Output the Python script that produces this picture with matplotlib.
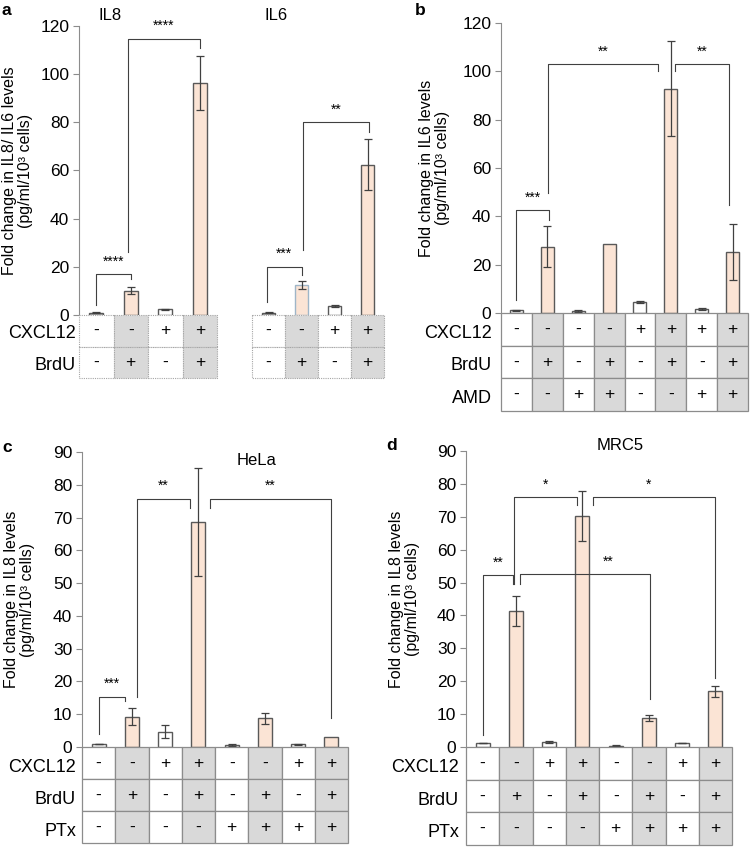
import matplotlib
matplotlib.use('Agg')
from matplotlib import pyplot as plt
from matplotlib.patches import Rectangle
import matplotlib.transforms as mtransforms

plt.rcParams['font.family'] = ['Liberation Sans', 'DejaVu Sans']

# ---- data ----
a_il8 = [1.0, 10.1, 2.3, 96.5]
a_il8_err = [0.2, 1.5, 0.3, 11.2]
a_il6 = [1.0, 12.4, 3.7, 62.3]
a_il6_err = [0.2, 1.6, 0.3, 10.6]
a_cxcl12 = ['-', '-', '+', '+']
a_brdu = ['-', '+', '-', '+']

b_vals = [1.1, 27.4, 1.0, 28.5, 4.6, 92.8, 1.8, 25.3]
b_err = [0.1, 8.4, 0.4, 0.0, 0.3, 19.7, 0.4, 11.5]
b_cxcl12 = ['-', '-', '-', '-', '+', '+', '+', '+']
b_brdu = ['-', '+', '-', '+', '-', '+', '-', '+']
b_amd = ['-', '-', '+', '+', '-', '-', '+', '+']

c_vals = [0.9, 9.2, 4.7, 68.6, 0.5, 8.7, 0.8, 3.0]
c_err = [0.1, 2.6, 2.1, 16.4, 0.3, 1.8, 0.1, 0.0]

d_vals = [1.2, 41.4, 1.5, 70.2, 0.4, 8.8, 1.2, 16.9]
d_err = [0.1, 4.5, 0.2, 7.6, 0.1, 0.9, 0.1, 1.6]

cd_cxcl12 = ['-', '-', '+', '+', '-', '-', '+', '+']
cd_brdu = ['-', '+', '-', '+', '-', '+', '-', '+']
cd_ptx = ['-', '-', '-', '-', '+', '+', '+', '+']

# brackets: (x left, x right, y left leg, y top, y right leg, label[, label x])
a_il8_sig = [(0, 1, 4.1, 17.0, 14.8, '****'),
             (0.93, 3, 26.3, 114.8, 110.9, '****')]
a_il6_sig = [(-0.05, 1.0, 5.5, 20.1, 16.6, '***'),
             (1.05, 3.05, 27.0, 80.2, 76.1, '**')]
b_sig = [(0, 1.05, 5.3, 42.6, 38.4, '***'),
         (1.03, 4.57, 49.5, 103.0, 100.3, '**'),
         (5.15, 6.9, 100.3, 103.0, 44.8, '**')]
c_sig = [(0, 0.79, 4.1, 15.4, 14.0, '***'),
         (1.14, 2.75, 15.4, 75.8, 73.0, '**'),
         (3.35, 7.0, 73.0, 75.8, 8.9, '**')]
d_sig = [(0, 0.91, 3.7, 52.3, 49.5, '**'),
         (0.95, 2.85, 49.5, 76.0, 73.5, '*'),
         (1.13, 5.04, 49.7, 52.5, 14.6, '**', 3.77),
         (3.33, 7.0, 73.5, 76.0, 20.9, '*', 5.0)]

peach = '#fbe4d5'
shade = '#d9d9d9'
grey_axis = '#8c8c8c'

W, H = 750, 847
fig = plt.figure(figsize=(W / 100, H / 100), dpi=100)


def px_axes(x0, y0, x1, y1):
    return fig.add_axes([x0 / W, 1 - y1 / H, (x1 - x0) / W, (y1 - y0) / H])


def px_text(x, y, s, **kw):
    fig.text(x / W, 1 - y / H, s, **kw)


def bar_panel(ax, vals, errs, ymax, step, first_grey=False, yaxis=True, edge2=None):
    n = len(vals)
    colors = []
    for i in range(n):
        if i % 2 == 1:
            colors.append(peach)
        elif i == 0 and first_grey:
            colors.append('#bfbfbf')
        else:
            colors.append('white')
    edges = ['#595959'] * n
    if edge2:
        edges[1] = edge2
    ax.bar(range(n), vals, width=0.42, color=colors, edgecolor=edges, linewidth=1.0,
           zorder=2)
    xs = [i for i in range(n) if errs[i] > 0]
    ax.errorbar(xs, [vals[i] for i in xs], yerr=[errs[i] for i in xs], fmt='none',
                ecolor='#404040', elinewidth=0.9, capsize=3, capthick=0.9, zorder=3)
    ax.set_xlim(-0.5, n - 0.5)
    ax.set_ylim(0, ymax)
    for s in ['top', 'right', 'bottom']:
        ax.spines[s].set_visible(False)
    ax.set_xticks([])
    if yaxis:
        ax.spines['left'].set_color(grey_axis)
        ax.set_yticks(range(0, ymax + 1, step))
        ax.tick_params(axis='y', length=4, color=grey_axis, labelsize=12.5, pad=3)
    else:
        ax.spines['left'].set_visible(False)
        ax.set_yticks([])
    ax.patch.set_alpha(0)


def ylabel(ax, text, xpx):
    # xpx: right edge of the label, pixels left of the axis
    ax.set_ylabel(text, fontsize=11.5, linespacing=1.05)
    bb = ax.get_position()
    ax.yaxis.set_label_coords(-xpx / (bb.width * W), 0.5)


def brackets(ax, sigs):
    for sig in sigs:
        x1, x2, y1, yt, y2, lab = sig[:6]
        tx = sig[6] if len(sig) > 6 else (x1 + x2) / 2
        ax.plot([x1, x1, x2, x2], [y1, yt, yt, y2], color='#404040', lw=0.8,
                clip_on=False, zorder=4)
        ax.annotate(lab, (tx, yt), xytext=(0, 4), textcoords='offset points',
                    ha='center', va='bottom', fontsize=10, annotation_clip=False)


def table(ax, rows, labels, dotted=False, pad=6, drop=4):
    n = len(rows[0])
    ax.set_xlim(-0.5, n - 0.5)
    ax.set_ylim(len(rows), 0)
    ax.axis('off')
    for r, row in enumerate(rows):
        for i, s in enumerate(row):
            fc = shade if i % 2 == 1 else 'white'
            if dotted:
                ax.add_patch(Rectangle((i - 0.5, r), 1, 1, fc=fc, ec='#a6a6a6', lw=0.8,
                                       ls=(0, (1, 1)), clip_on=False))
            else:
                ax.add_patch(Rectangle((i - 0.5, r), 1, 1, fc=fc, ec=grey_axis, lw=0.9,
                                       clip_on=False))
            ax.text(i, r + 0.5, s, ha='center', va='center', fontsize=12.5)
        if labels:
            tr = mtransforms.offset_copy(ax.get_yaxis_transform(), fig=fig,
                                         x=-pad, y=-drop, units='dots')
            ax.text(0, r + 0.5, labels[r], transform=tr, ha='right', va='center',
                    fontsize=13)


# ---- panel a ----
ax = px_axes(79, 26, 217, 315)
bar_panel(ax, a_il8, a_il8_err, 120, 20, first_grey=True)
brackets(ax, a_il8_sig)
ylabel(ax, 'Fold change in IL8/ IL6 levels\n(pg/ml/10³ cells)', 46)
tab = px_axes(79, 315, 217, 378)
table(tab, [a_cxcl12, a_brdu], ['CXCL12', 'BrdU'], dotted=True, pad=3, drop=3)

ax = px_axes(252, 26, 384, 315)
bar_panel(ax, a_il6, a_il6_err, 120, 20, first_grey=True, yaxis=False, edge2='#9fb6c8')
brackets(ax, a_il6_sig)
tab = px_axes(252, 315, 384, 378)
table(tab, [a_cxcl12, a_brdu], None, dotted=True)
px_text(110, 15, 'IL8', fontsize=12, ha='center', va='center')
px_text(276, 15, 'IL6', fontsize=12, ha='center', va='center')

# ---- panel b ----
ax = px_axes(501, 23, 748, 313)
bar_panel(ax, b_vals, b_err, 120, 20)
brackets(ax, b_sig)
ylabel(ax, 'Fold change in IL6 levels\n(pg/ml/10³ cells)', 51)
tab = px_axes(501, 313, 748, 411)
table(tab, [b_cxcl12, b_brdu, b_amd], ['CXCL12', 'BrdU', 'AMD'], pad=9)

# ---- panel c ----
ax = px_axes(82, 452, 348, 747)
bar_panel(ax, c_vals, c_err, 90, 10)
brackets(ax, c_sig)
ylabel(ax, 'Fold change in IL8 levels\n(pg/ml/10³ cells)', 47)
tab = px_axes(82, 747, 348, 843)
table(tab, [cd_cxcl12, cd_brdu, cd_ptx], ['CXCL12', 'BrdU', 'PTx'], pad=6)
px_text(257, 460, 'HeLa', fontsize=12, ha='center', va='center')

# ---- panel d ----
ax = px_axes(466, 451, 732, 747)
bar_panel(ax, d_vals, d_err, 90, 10)
brackets(ax, d_sig)
ylabel(ax, 'Fold change in IL8 levels\n(pg/ml/10³ cells)', 46)
tab = px_axes(466, 747, 732, 845)
table(tab, [cd_cxcl12, cd_brdu, cd_ptx], ['CXCL12', 'BrdU', 'PTx'], pad=7)
px_text(620, 445, 'MRC5', fontsize=12, ha='center', va='center')

# panel letters
for lab, x, y in [('a', 2, 3), ('b', 415, 3), ('c', 2, 440), ('d', 386, 438)]:
    px_text(x, y, lab, fontsize=12.5, fontweight='bold', ha='left', va='top')

fig.savefig('out.png', dpi=100)
plt.close()
